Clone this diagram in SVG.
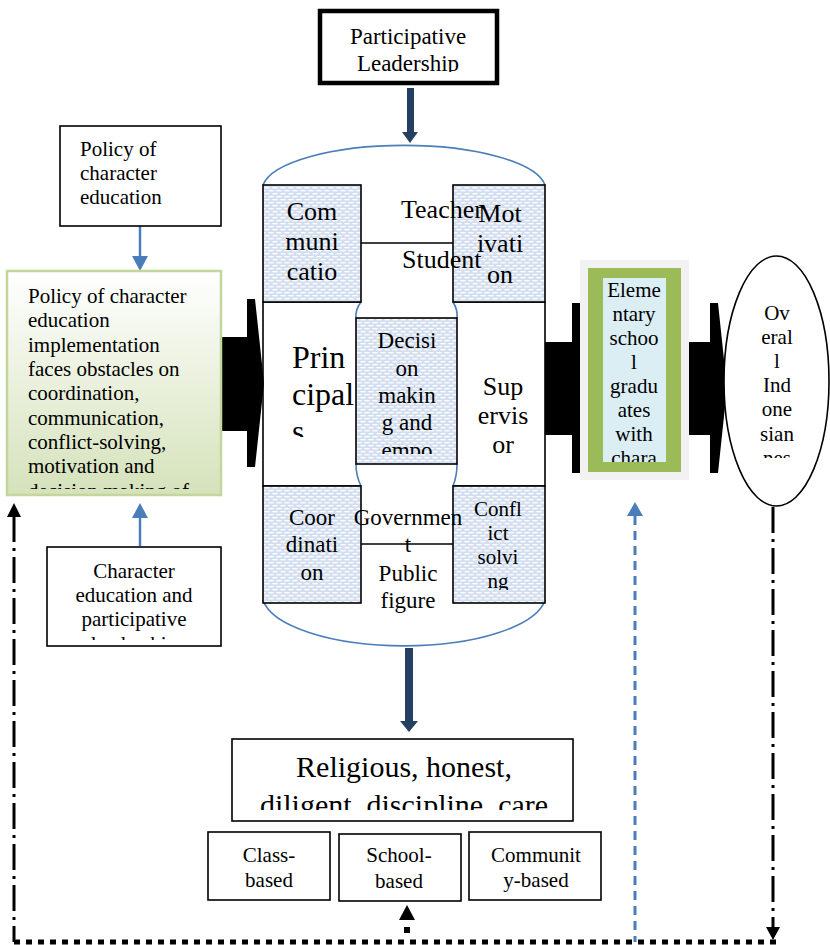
<svg xmlns="http://www.w3.org/2000/svg" width="830" height="945" viewBox="0 0 830 945">
<style>
.box{fill:#fff;stroke:#000;stroke-width:1.6}
.pat{fill:url(#dots);stroke:#000;stroke-width:1.6}
.ln{fill:none;stroke:#000;stroke-width:1.6}
.blue{fill:none;stroke:#4a7ebb;stroke-width:1.6}
.c{text-anchor:middle}
.navy{fill:#243f60}
.bk{fill:#000}
</style>
<defs>
<pattern id="dots" width="8" height="6" patternUnits="userSpaceOnUse">
<rect width="8" height="6" fill="#d3dff0"/>
<rect x="0.5" y="1" width="5" height="1.4" fill="#fff"/>
<rect x="4.5" y="4" width="5" height="1.4" fill="#fff"/>
<rect x="-3.5" y="4" width="5" height="1.4" fill="#fff"/>
</pattern>
<linearGradient id="gg" x1="0" y1="0" x2="0" y2="1">
<stop offset="0" stop-color="#ffffff"/>
<stop offset="1" stop-color="#d5e2bb"/>
</linearGradient>
<clipPath id="cpL"><rect x="320" y="14" width="178" height="58"/></clipPath>
<clipPath id="cpG"><rect x="8" y="272" width="212" height="217"/></clipPath>
<clipPath id="cpB"><rect x="48" y="548" width="172" height="92"/></clipPath>
<clipPath id="cpP"><rect x="263" y="303" width="92" height="134"/></clipPath>
<clipPath id="cpD"><rect x="356" y="318" width="101" height="136"/></clipPath>
<clipPath id="cpC"><rect x="454" y="487" width="91" height="103"/></clipPath>
<clipPath id="cpR"><rect x="233" y="740" width="339" height="70"/></clipPath>
<clipPath id="cpE"><rect x="603" y="278" width="63" height="184"/></clipPath>
<clipPath id="cpO"><rect x="730" y="260" width="95" height="198"/></clipPath>
</defs>

<g id="connectors">
<rect class="navy" x="407" y="88" width="7" height="46"/>
<polygon class="navy" points="402,132 418,132 410,143"/>
<rect class="navy" x="405" y="648" width="8" height="76"/>
<polygon class="navy" points="400,721 418,721 409,732"/>
<line x1="140" y1="226" x2="140" y2="258" stroke="#4a7ebb" stroke-width="2.5"/>
<polygon points="132,256 148,256 140,271" fill="#4a7ebb"/>
<line x1="140" y1="546" x2="140" y2="514" stroke="#4a7ebb" stroke-width="2.5"/>
<polygon points="132,518 148,518 140,503" fill="#4a7ebb"/>
<polygon class="bk" points="216,337 247,337 247,299 255,299 264,383 255,467 247,467 247,431 216,431"/>
<polygon class="bk" points="545,342 572,342 572,303 581,303 590,387 581,473 572,473 572,435 545,435"/>
<polygon class="bk" points="679,342 710,342 710,303 718,303 727,388 718,473 710,473 710,435 679,435"/>
<path d="M14,516 V942" fill="none" stroke="#000" stroke-width="3" stroke-dasharray="26,6,3,6"/>
<polygon class="bk" points="7,517 21,517 14,503"/>
<line x1="14" y1="942" x2="776" y2="942" stroke="#000" stroke-width="5" stroke-dasharray="6,6"/>
<path d="M773,507 V928" fill="none" stroke="#000" stroke-width="3" stroke-dasharray="26,6,3,6"/>
<polygon class="bk" points="766,927 780,927 773,940"/>
<path d="M635,516 V942" fill="none" stroke="#4a7ebb" stroke-width="3" stroke-dasharray="9,6"/>
<polygon points="627,516 643,516 635,502" fill="#4a7ebb"/>
<rect class="bk" x="404" y="927" width="6" height="6"/>
<polygon class="bk" points="399,920 415,920 407,905"/>
</g>

<g id="participative-leadership">
<rect x="320" y="11" width="177" height="72" fill="#fff" stroke="#000" stroke-width="4.5"/>
<g clip-path="url(#cpL)">
<text class="c" x="408" y="44" font-size="23" font-family="Liberation Serif">Participative</text>
<text class="c" x="408" y="71" font-size="23" font-family="Liberation Serif">Leadership</text>
</g>
</g>

<g id="policy-character-education">
<rect class="box" x="60" y="126" width="161" height="100"/>
<text x="80" y="156" font-size="21" font-family="Liberation Serif">Policy of</text>
<text x="80" y="180" font-size="21" font-family="Liberation Serif">character</text>
<text x="80" y="204" font-size="21" font-family="Liberation Serif">education</text>
</g>

<g id="policy-implementation">
<rect x="7" y="271" width="214" height="224" fill="url(#gg)" stroke="#c3d69b" stroke-width="2.5"/>
<g clip-path="url(#cpG)">
<text x="28" y="303" font-size="21" font-family="Liberation Serif">Policy of character</text>
<text x="28" y="327" font-size="21" font-family="Liberation Serif">education</text>
<text x="28" y="352" font-size="21" font-family="Liberation Serif">implementation</text>
<text x="28" y="376" font-size="21" font-family="Liberation Serif">faces obstacles on</text>
<text x="28" y="400" font-size="21" font-family="Liberation Serif">coordination,</text>
<text x="28" y="425" font-size="21" font-family="Liberation Serif">communication,</text>
<text x="28" y="449" font-size="21" font-family="Liberation Serif">conflict-solving,</text>
<text x="28" y="473" font-size="21" font-family="Liberation Serif">motivation and</text>
<text x="28" y="498" font-size="21" font-family="Liberation Serif">decision making of</text>
</g>
</g>

<g id="character-education-participative">
<rect class="box" x="47" y="547" width="174" height="99"/>
<g clip-path="url(#cpB)">
<text class="c" x="134" y="578" font-size="21" font-family="Liberation Serif">Character</text>
<text class="c" x="134" y="602" font-size="21" font-family="Liberation Serif">education and</text>
<text class="c" x="134" y="626" font-size="21" font-family="Liberation Serif">participative</text>
<text class="c" x="134" y="651" font-size="21" font-family="Liberation Serif">leadership</text>
</g>
</g>

<g id="center">
<path class="blue" d="M263,185 A142,45 0 0 1 545,185"/>
<path class="blue" d="M263,600 A142,52 0 0 0 545,600"/>
<path class="ln" d="M361,302 H263 V486 H361"/>
<path class="ln" d="M453,302 H545 V486 H453"/>
<path class="blue" d="M361,302 Q355,310 356,318"/>
<path class="blue" d="M453,302 Q458,310 457,318"/>
<path class="blue" d="M356,464 Q356,476 361,486"/>
<path class="blue" d="M457,464 Q457,476 453,486"/>
<line class="ln" x1="361" y1="243" x2="453" y2="243"/>
<line class="ln" x1="361" y1="544" x2="453" y2="544"/>
<g clip-path="url(#cpP)">
<text x="292" y="368" font-size="32" font-family="Liberation Serif">Prin</text>
<text x="292" y="405" font-size="32" font-family="Liberation Serif">cipal</text>
<text x="292" y="442" font-size="32" font-family="Liberation Serif">s</text>
</g>
<text class="c" x="503" y="395" font-size="26" font-family="Liberation Serif">Sup</text>
<text class="c" x="503" y="424" font-size="26" font-family="Liberation Serif">ervis</text>
<text class="c" x="503" y="453" font-size="26" font-family="Liberation Serif">or</text>
</g>

<g id="communication">
<rect class="pat" x="263" y="185" width="98" height="117"/>
<text class="c" x="312" y="220" font-size="26" font-family="Liberation Serif">Com</text>
<text class="c" x="312" y="250" font-size="26" font-family="Liberation Serif">muni</text>
<text class="c" x="312" y="280" font-size="26" font-family="Liberation Serif">catio</text>
</g>

<g id="motivation">
<rect class="pat" x="453" y="185" width="92" height="117"/>
<text class="c" x="500" y="222" font-size="26" font-family="Liberation Serif">Mot</text>
<text class="c" x="500" y="252" font-size="26" font-family="Liberation Serif">ivati</text>
<text class="c" x="500" y="283" font-size="26" font-family="Liberation Serif">on</text>
</g>

<g id="teacher-student">
<text x="401" y="218" font-size="26" font-family="Liberation Serif">Teacher</text>
<text x="402" y="268" font-size="26" font-family="Liberation Serif">Student</text>
</g>

<g id="decision-making">
<rect class="pat" x="356" y="318" width="101" height="146"/>
<g clip-path="url(#cpD)">
<text class="c" x="407" y="348" font-size="23" font-family="Liberation Serif">Decisi</text>
<text class="c" x="407" y="376" font-size="23" font-family="Liberation Serif">on</text>
<text class="c" x="407" y="403" font-size="23" font-family="Liberation Serif">makin</text>
<text class="c" x="407" y="430" font-size="23" font-family="Liberation Serif">g and</text>
<text class="c" x="407" y="458" font-size="23" font-family="Liberation Serif">empo</text>
</g>
</g>

<g id="coordination">
<rect class="pat" x="263" y="486" width="98" height="117"/>
<text class="c" x="312" y="525" font-size="23" font-family="Liberation Serif">Coor</text>
<text class="c" x="312" y="552" font-size="23" font-family="Liberation Serif">dinati</text>
<text class="c" x="312" y="580" font-size="23" font-family="Liberation Serif">on</text>
</g>

<g id="conflict-solving">
<rect class="pat" x="453" y="486" width="92" height="117"/>
<g clip-path="url(#cpC)">
<text class="c" x="498" y="516" font-size="21" font-family="Liberation Serif">Confl</text>
<text class="c" x="498" y="540" font-size="21" font-family="Liberation Serif">ict</text>
<text class="c" x="498" y="564" font-size="21" font-family="Liberation Serif">solvi</text>
<text class="c" x="498" y="588" font-size="21" font-family="Liberation Serif">ng</text>
</g>
</g>

<g id="government-public">
<text class="c" x="408" y="525" font-size="23" font-family="Liberation Serif">Governmen</text>
<text class="c" x="408" y="552" font-size="23" font-family="Liberation Serif">t</text>
<text class="c" x="408" y="581" font-size="23" font-family="Liberation Serif">Public</text>
<text class="c" x="408" y="608" font-size="23" font-family="Liberation Serif">figure</text>
</g>

<g id="values">
<rect class="box" x="232" y="739" width="341" height="82"/>
<g clip-path="url(#cpR)">
<text class="c" x="404" y="777" font-size="30" font-family="Liberation Serif">Religious, honest,</text>
<text class="c" x="404" y="815" font-size="30" font-family="Liberation Serif">diligent, discipline, care</text>
</g>
</g>

<g id="class-based">
<rect class="box" x="208" y="832" width="122" height="68"/>
<text class="c" x="269" y="862" font-size="21" font-family="Liberation Serif">Class-</text>
<text class="c" x="269" y="887" font-size="21" font-family="Liberation Serif">based</text>
</g>

<g id="school-based">
<rect class="box" x="339" y="834" width="122" height="67"/>
<text class="c" x="399" y="862" font-size="21" font-family="Liberation Serif">School-</text>
<text class="c" x="399" y="888" font-size="21" font-family="Liberation Serif">based</text>
</g>

<g id="community-based">
<rect class="box" x="469" y="832" width="132" height="68"/>
<text class="c" x="536" y="862" font-size="21" font-family="Liberation Serif">Communit</text>
<text class="c" x="536" y="887" font-size="21" font-family="Liberation Serif">y-based</text>
</g>

<g id="graduates">
<rect x="580" y="260" width="109" height="220" fill="#f2f2f2"/>
<rect x="588" y="268" width="93" height="204" fill="#9bbb59"/>
<rect x="603" y="278" width="63" height="184" fill="#dbeef4"/>
<g clip-path="url(#cpE)">
<text class="c" x="634" y="297" font-size="21" font-family="Liberation Serif">Eleme</text>
<text class="c" x="634" y="321" font-size="21" font-family="Liberation Serif">ntary</text>
<text class="c" x="634" y="345" font-size="21" font-family="Liberation Serif">schoo</text>
<text class="c" x="634" y="369" font-size="21" font-family="Liberation Serif">l</text>
<text class="c" x="634" y="393" font-size="21" font-family="Liberation Serif">gradu</text>
<text class="c" x="634" y="417" font-size="21" font-family="Liberation Serif">ates</text>
<text class="c" x="634" y="441" font-size="21" font-family="Liberation Serif">with</text>
<text class="c" x="634" y="465" font-size="21" font-family="Liberation Serif">chara</text>
</g>
</g>

<g id="overall-indonesian">
<ellipse cx="776.5" cy="381" rx="52.5" ry="125" fill="#fff" stroke="#000" stroke-width="1.6"/>
<g clip-path="url(#cpO)">
<text class="c" x="777" y="320" font-size="21" font-family="Liberation Serif">Ov</text>
<text class="c" x="777" y="344" font-size="21" font-family="Liberation Serif">eral</text>
<text class="c" x="777" y="368" font-size="21" font-family="Liberation Serif">l</text>
<text class="c" x="777" y="392" font-size="21" font-family="Liberation Serif">Ind</text>
<text class="c" x="777" y="416" font-size="21" font-family="Liberation Serif">one</text>
<text class="c" x="777" y="441" font-size="21" font-family="Liberation Serif">sian</text>
<text class="c" x="777" y="465" font-size="21" font-family="Liberation Serif">nes</text>
</g>
</g>
</svg>
